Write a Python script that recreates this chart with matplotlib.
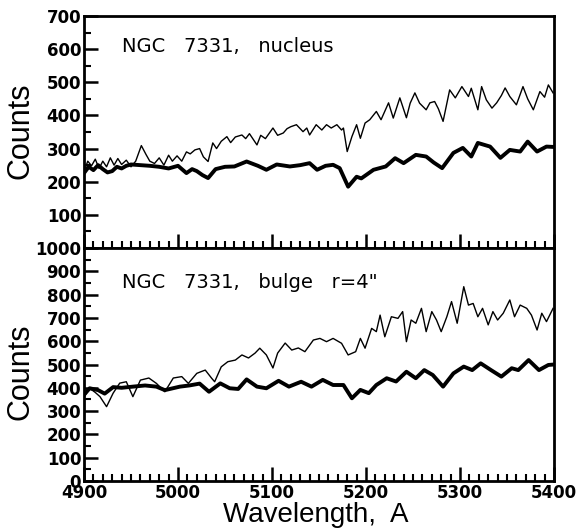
import matplotlib
matplotlib.use("Agg")
import matplotlib.pyplot as plt
from matplotlib.ticker import MultipleLocator

# ---- data ----
nuc_thin_wl = [4900,4904,4908,4912,4916,4920,4924,4928,4932,4936,
               4940,4945,4950,4955,4961,4966,4970,4975,4980,4985,
               4990,4994,4999,5004,5009,5013,5018,5023,5027,5032,
               5037,5041,5046,5052,5056,5061,5068,5072,5076,5084,
               5088,5093,5101,5106,5112,5116,5120,5126,5133,5137,
               5140,5147,5153,5158,5163,5169,5174,5176,5180,5185,
               5190,5194,5199,5204,5211,5216,5224,5229,5236,5243,
               5247,5252,5257,5264,5268,5273,5277,5282,5289,5295,
               5302,5309,5312,5319,5323,5328,5334,5339,5344,5348,
               5353,5360,5367,5372,5378,5385,5390,5394,5399]
nuc_thin = [230,262,248,268,240,262,245,272,250,270,
            252,265,245,262,309,282,262,255,272,250,
            280,262,278,262,290,284,296,300,275,261,
            317,300,322,336,318,335,341,330,345,311,
            340,330,362,340,347,360,366,372,351,362,
            341,372,356,372,362,372,356,362,291,336,
            372,331,377,387,412,387,438,392,453,393,
            437,468,437,417,438,442,420,382,477,453,
            487,457,482,417,487,447,422,438,460,483,
            457,432,487,450,417,472,455,492,468]

nuc_thick_wl = [4900,4905,4910,4915,4920,4925,4930,4935,4940,4945,4950,4960,4970,4980,
                4990,5000,5009,5015,5020,5026,5032,5040,5050,5060,5073,5085,5094,5105,
                5119,5130,5140,5148,5157,5165,5172,5181,5190,5195,5208,5221,5231,5240,
                5253,5264,5272,5281,5293,5303,5312,5319,5332,5343,5353,5364,5372,5382,
                5392,5399]
nuc_thick = [226,245,235,250,238,228,232,245,240,248,252,250,248,245,
             240,248,226,238,232,220,211,238,245,246,261,248,236,252,
             246,250,256,236,248,251,241,185,215,210,236,246,271,256,
             281,276,258,241,287,302,276,317,306,272,296,291,321,291,
             306,305]

bul_thin_wl = [4900,4906,4912,4917,4924,4931,4938,4945,4952,4960,
               4969,4977,4986,4995,5004,5011,5020,5025,5029,5036,
               5039,5046,5053,5061,5068,5075,5082,5087,5094,5101,
               5106,5114,5121,5128,5135,5144,5151,5158,5165,5174,
               5181,5189,5194,5199,5206,5211,5215,5220,5227,5234,
               5239,5243,5248,5253,5259,5264,5270,5275,5280,5286,
               5291,5297,5304,5309,5314,5319,5324,5330,5335,5340,
               5346,5353,5358,5364,5371,5376,5382,5387,5392,5399]
bul_thin = [360,398,380,362,319,377,420,426,362,433,
            442,419,383,442,448,419,462,470,476,440,
            426,490,512,519,541,528,549,570,541,485,
            549,592,562,571,555,605,612,598,612,591,
            541,555,612,570,655,641,712,619,705,698,
            727,598,691,677,741,641,727,691,641,705,
            770,677,834,755,762,705,741,670,727,691,
            720,777,705,755,741,712,648,720,684,741]

bul_thick_wl = [4900,4906,4915,4922,4931,4940,4952,4965,4977,4986,5002,5012,5023,5033,
                5045,5055,5064,5073,5084,5094,5107,5118,5131,5142,5154,5165,5176,5185,
                5194,5203,5211,5222,5232,5243,5253,5262,5271,5282,5293,5304,5313,5322,
                5333,5344,5355,5362,5373,5384,5394,5400]
bul_thick = [370,398,390,375,403,400,405,410,405,390,405,410,418,383,
             419,398,395,436,405,398,430,405,426,405,434,412,412,355,
             391,377,412,441,427,469,441,476,455,405,462,491,476,505,
             476,448,484,476,519,476,498,500]

panel_titles = ["NGC   7331,   nucleus", "NGC   7331,   bulge   r=4\""]
top_yticks = [100, 200, 300, 400, 500, 600, 700]
bot_yticks = [0, 100, 200, 300, 400, 500, 600, 700, 800, 900, 1000]
xticks = [4900, 5000, 5100, 5200, 5300, 5400]

# ---- figure ----
fig = plt.figure(figsize=(5.79, 5.31), dpi=100)
L, W = 84/579, 470/579
ax1 = fig.add_axes([L, 1-248/531, W, 232/531])
ax2 = fig.add_axes([L, 1-481/531, W, 233/531])

TFS = 12

for ax, thin_wl, thin, thick_wl, thick, title, yt, ymax in [
        (ax1, nuc_thin_wl, nuc_thin, nuc_thick_wl, nuc_thick, panel_titles[0], top_yticks, 700),
        (ax2, bul_thin_wl, bul_thin, bul_thick_wl, bul_thick, panel_titles[1], bot_yticks, 1000)]:
    ax.plot(thin_wl, thin, color="black", lw=1.0)
    ax.plot(thick_wl, thick, color="black", lw=2.8, solid_joinstyle="round")
    ax.set_xlim(4900, 5400)
    ax.set_ylim(0, ymax)
    ax.set_yticks(yt)
    ax.yaxis.set_minor_locator(MultipleLocator(50))
    ax.xaxis.set_major_locator(MultipleLocator(100))
    ax.xaxis.set_minor_locator(MultipleLocator(10))
    ax.tick_params(axis="both", which="major", direction="in", length=10, width=1.8,
                   top=False, right=False)
    ax.tick_params(axis="both", which="minor", direction="in", length=5, width=1.5,
                   top=False, right=False)
    ax.tick_params(axis="y", pad=2)
    for lab in ax.get_yticklabels():
        lab.set_fontfamily("DejaVu Sans"); lab.set_fontweight("bold"); lab.set_fontsize(TFS)
    for sp in ax.spines.values():
        sp.set_linewidth(2.0)
    ax.text(0.081, 0.87 if ax is ax1 else 0.854, title, transform=ax.transAxes,
            fontsize=14, family="DejaVu Sans", va="center", ha="left")

ax1.set_xticks(xticks)
ax1.set_xticklabels([])
ax2.set_xticks(xticks)
ax2.set_xticklabels([str(v) for v in xticks], fontfamily="DejaVu Sans",
                    fontweight="bold", fontsize=TFS)
ax2.tick_params(axis="x", pad=2)

fig.text(0.036, 1-131/531, "Counts", rotation=90, ha="center", va="center",
         fontsize=22, family="Liberation Sans")
fig.text(0.036, 1-372/531, "Counts", rotation=90, ha="center", va="center",
         fontsize=22, family="Liberation Sans")
fig.text(316/579, 1-522/531, "Wavelength,  A", ha="center", va="baseline",
         fontsize=20, family="Liberation Sans")

fig.savefig("out.png", dpi=100)
